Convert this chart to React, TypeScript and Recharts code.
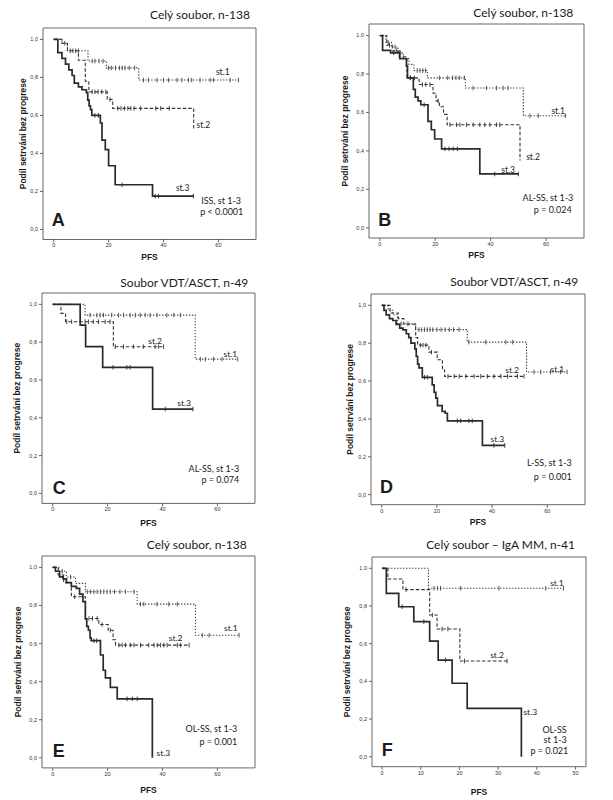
import React from "react";
import { LineChart, Line, XAxis, YAxis, ReferenceArea, ReferenceDot } from "recharts";

// ---- data (T = step times, S = survival after step, C = censored times)

const aSt1T = [0, 3, 5, 12.5, 19.2, 31];
const aSt1S = [1, 0.98, 0.94, 0.886, 0.85, 0.786];
const aSt1C = [4, 7, 9, 14, 15, 16.5, 18, 20, 21, 22.5, 24, 25, 26, 27.5, 29.5, 32.7, 34.5, 37.6, 40, 41.8, 44.9, 46.7, 49.1, 50.3, 53.3, 57, 58.2, 64.3, 67.3];
const aSt2T = [0, 3, 5, 9, 11.5, 12.8, 19.5, 21.5, 51];
const aSt2S = [1, 0.98, 0.94, 0.89, 0.78, 0.724, 0.684, 0.637, 0.53];
const aSt2C = [6, 8, 14, 15, 16.2, 17.5, 19, 20.5, 23.3, 24.5, 25.8, 27, 28.1, 29.3, 31.7, 37.2, 39, 42.1];
const aSt3T = [0, 1.5, 3, 4.3, 5.5, 6.7, 7.5, 9, 10.3, 11.9, 12.4, 12.9, 13.4, 13.9, 17, 17.6, 18.8, 20, 22.4, 36];
const aSt3S = [1, 0.93, 0.9, 0.87, 0.84, 0.81, 0.77, 0.75, 0.735, 0.72, 0.68, 0.65, 0.63, 0.6, 0.56, 0.47, 0.42, 0.335, 0.235, 0.175];
const aSt3C = [15, 16.3, 24.9, 37, 38.2, 50.9];

const bSt1T = [0, 2.2, 4.2, 6.5, 8.5, 10.5, 12.3, 17.2, 30.9, 51.8];
const bSt1S = [1, 0.965, 0.94, 0.91, 0.88, 0.85, 0.818, 0.78, 0.727, 0.583];
const bSt1C = [3, 5.5, 7.5, 13.5, 14.5, 15.5, 16.5, 21.5, 24.5, 26.3, 27.5, 28.7, 30.5, 33.7, 38.5, 42.1, 44.5, 46.3, 54.2, 57.2, 67];
const bSt2T = [0, 2.5, 4.5, 7, 9.8, 14.2, 19.2, 20.3, 21.5, 23, 24.3, 50.6];
const bSt2S = [1, 0.95, 0.92, 0.89, 0.78, 0.745, 0.7, 0.66, 0.63, 0.59, 0.536, 0.35];
const bSt2C = [3.5, 6, 11, 12.5, 15.4, 16.6, 18.1, 21, 25.3, 27.7, 28.9, 31.3, 33.7, 36.1, 37.9, 39.7, 42.1, 43.3];
const bSt3T = [0, 1, 3.9, 7.2, 9.6, 10, 12.1, 12.8, 13.8, 14.8, 17.4, 18.6, 19.8, 22.3, 36.1];
const bSt3S = [1, 0.923, 0.91, 0.88, 0.84, 0.78, 0.72, 0.68, 0.66, 0.64, 0.554, 0.51, 0.462, 0.411, 0.28];
const bSt3C = [5, 11, 16, 23.5, 25, 26.5, 28, 41.5, 50];

const cSt1T = [0, 11.8, 51.9];
const cSt1S = [1, 0.943, 0.71];
const cSt1C = [13.6, 16.1, 17.3, 18.5, 21.5, 24, 25.8, 28.2, 30.1, 31.9, 33.7, 35.5, 38, 41.6, 44.1, 46.5, 53.8, 55.6, 58.6, 61.7, 67.4];
const cSt2T = [0, 3, 4.7, 22.1];
const cSt2S = [1, 0.952, 0.908, 0.776];
const cSt2C = [5.1, 6.9, 11.8, 13, 14.8, 16.7, 19.1, 20.9, 22.8, 25.8, 29.4, 33, 37.3, 38.5, 40.4];
const cSt3T = [0, 10, 12, 18.2, 36.4];
const cSt3S = [1, 0.89, 0.776, 0.667, 0.446];
const cSt3C = [22, 27, 28.2, 41, 51.1];

const dSt1T = [0, 2.3, 4, 5.7, 12.3, 31, 52.5];
const dSt1S = [1, 0.974, 0.95, 0.903, 0.872, 0.806, 0.648];
const dSt1C = [7, 9.5, 13.5, 14.5, 15.5, 16.5, 17.5, 18.5, 20, 21.5, 23, 24.5, 26, 28, 31.6, 37.7, 45, 47.5, 55.2, 57.6, 61.2, 64.8, 67.2];
const dSt2T = [0, 3, 6, 8, 12.3, 13, 17.1, 20.1, 22, 22.8];
const dSt2S = [1, 0.96, 0.93, 0.9, 0.83, 0.79, 0.753, 0.713, 0.66, 0.625];
const dSt2C = [14, 15, 16, 18, 24, 26.3, 28.1, 30.5, 33.5, 35.9, 38.3, 40.7, 43.2, 45.6, 49.2, 51.6];
const dSt3T = [0, 0.8, 1.6, 2.8, 4, 5.2, 6.5, 7.7, 8.9, 9.8, 10.6, 12, 12.5, 13, 13.5, 14.7, 18.3, 19, 19.6, 20.2, 21.9, 23, 23.8, 36.5];
const dSt3S = [1, 0.974, 0.95, 0.93, 0.92, 0.9, 0.88, 0.87, 0.85, 0.83, 0.8, 0.77, 0.73, 0.69, 0.67, 0.62, 0.58, 0.54, 0.51, 0.47, 0.44, 0.43, 0.39, 0.26];
const dSt3C = [15.5, 16.5, 27.4, 28.6, 31.6, 32.8, 40.7, 44.6];

const eSt1T = [0, 2.2, 5, 8.3, 11.9, 30.8, 52];
const eSt1S = [1, 0.98, 0.95, 0.916, 0.872, 0.807, 0.644];
const eSt1C = [3.5, 6.5, 12.6, 13.8, 15, 16.2, 17.4, 18.6, 19.8, 21, 22.5, 24.5, 26.5, 29.6, 32, 33.2, 38, 42.3, 45.4, 54.5, 57, 67.9];
const eSt2T = [0, 2, 4, 6.8, 11.9, 16.8, 20.2, 22, 22.9];
const eSt2S = [1, 0.96, 0.92, 0.846, 0.732, 0.7, 0.67, 0.62, 0.592];
const eSt2C = [8, 13.2, 14.5, 16.2, 18, 21, 24.1, 25.3, 26.5, 28.3, 29.6, 32, 35, 36.9, 38.1, 39.3, 40.5, 41.7, 45.4, 46.6, 49.7];
const eSt3T = [0, 1, 2.5, 3.8, 5, 6.8, 8.6, 9.8, 11, 11.9, 12.4, 13, 13.6, 14, 17.4, 18.4, 19.2, 21, 23.5, 36.3];
const eSt3S = [1, 0.98, 0.95, 0.94, 0.92, 0.9, 0.89, 0.86, 0.82, 0.73, 0.69, 0.67, 0.63, 0.615, 0.54, 0.46, 0.42, 0.37, 0.31, 0];
const eSt3C = [15, 16, 27.1, 29, 30.8];

const fSt1T = [0, 12];
const fSt1S = [1, 0.894];
const fSt1C = [13.4, 14.3, 15.1, 20.3, 30.2, 42.3, 46.9];
const fSt2T = [0, 1.5, 5.4, 12.3, 14.2, 20.1];
const fSt2S = [1, 0.943, 0.887, 0.752, 0.678, 0.508];
const fSt2C = [6.2, 13, 15.5, 17, 21.3, 32.3];
const fSt3T = [0, 1.1, 4.3, 8.2, 12.3, 14.5, 18.1, 22, 36];
const fSt3S = [1, 0.867, 0.796, 0.717, 0.614, 0.513, 0.39, 0.257, 0];
const fSt3C = [5.2, 10.8, 16.4];

const stNames = ["st.1", "st.2", "st.3"];
const yTicks = [0, 0.2, 0.4, 0.6, 0.8, 1];
const xTicks60 = [0, 20, 40, 60];
const xTicks50 = [0, 10, 20, 30, 40, 50];
const titles = [
  "Celý soubor, n-138",
  "Celý soubor, n-138",
  "Soubor VDT/ASCT, n-49",
  "Soubor VDT/ASCT, n-49",
  "Celý soubor, n-138",
  "Celý soubor – IgA MM, n-41",
];
const notes = [
  ["ISS, st 1-3", "p < 0.0001"],
  ["AL-SS, st 1-3", "p = 0.024"],
  ["AL-SS, st 1-3", "p = 0.074"],
  ["L-SS, st 1-3", "p = 0.001"],
  ["OL-SS, st 1-3", "p = 0.001"],
  ["OL-SS", "st 1-3", "p = 0.021"],
];
const letters = ["A", "B", "C", "D", "E", "F"];
const Y_LABEL = "Podíl setrvání bez progrese";
const X_LABEL = "PFS";

// ---- layout

const PAGE_W = 613;
const PAGE_H = 800;
const INK = "#1b1b1b";
const FRAME = "#666";
const Y_DOMAIN: [number, number] = [-0.053, 1.06];
const X_DOMAIN_60: [number, number] = [-3.9, 73.7];
const X_DOMAIN_50: [number, number] = [-2.6, 52.7];

type Pt = { t: number; s: number; c: boolean };

function km(T: number[], S: number[], C: number[]): Pt[] {
  const pts: Pt[] = T.map((t, i) => ({ t, s: S[i], c: false }));
  for (const t of C) {
    let s = S[0];
    T.forEach((tt, i) => {
      if (tt <= t) s = S[i];
    });
    pts.push({ t, s, c: true });
  }
  return pts.sort((a, b) => a.t - b.t || Number(a.c) - Number(b.c));
}

const lineStyles = [
  { dash: "1.4 1.6", width: 1.1, color: "#444" },
  { dash: "3.5 2", width: 1.1, color: "#333" },
  { dash: undefined, width: 1.7, color: "#2a2a2a" },
];

const panels = [
  {
    frame: { x: 42.7, y: 27.9, w: 213, h: 211.5 },
    xDomain: X_DOMAIN_60, xTicks: xTicks60,
    curves: [km(aSt1T, aSt1S, aSt1C), km(aSt2T, aSt2S, aSt2C), km(aSt3T, aSt3S, aSt3C)],
    stPos: [[61.6, 0.83], [54.5, 0.55], [47, 0.216]],
    title: { x: 250, y: 15 },
    noteX: [241, 243.3], noteY: [200, 210.7],
    letter: { x: 51.7, y: 220 },
    pfsDy: 17.6, ylabDist: 20,
  },
  {
    frame: { x: 369, y: 24.4, w: 215, h: 214 },
    xDomain: X_DOMAIN_60, xTicks: xTicks60,
    curves: [km(bSt1T, bSt1S, bSt1C), km(bSt2T, bSt2S, bSt2C), km(bSt3T, bSt3S, bSt3C)],
    stPos: [[64.4, 0.61], [55.3, 0.37], [46.3, 0.303]],
    title: { x: 573.3, y: 13.3 },
    noteX: [573.3, 571.7], noteY: [197.3, 209],
    letter: { x: 378.3, y: 220 },
    pfsDy: 16.6, ylabDist: 24,
  },
  {
    frame: { x: 42.2, y: 293, w: 213, h: 210.4 },
    xDomain: X_DOMAIN_60, xTicks: xTicks60,
    curves: [km(cSt1T, cSt1S, cSt1C), km(cSt2T, cSt2S, cSt2C), km(cSt3T, cSt3S, cSt3C)],
    stPos: [[64.7, 0.735], [37.3, 0.806], [47.9, 0.476]],
    title: { x: 248.3, y: 283.3 },
    noteX: [239.3, 239.3], noteY: [468.3, 479.3],
    letter: { x: 52.7, y: 487.5 },
    pfsDy: 20, ylabDist: 24.7,
  },
  {
    frame: { x: 370.5, y: 293.6, w: 214, h: 210.7 },
    xDomain: X_DOMAIN_60, xTicks: xTicks60,
    curves: [km(dSt1T, dSt1S, dSt1C), km(dSt2T, dSt2S, dSt2C), km(dSt3T, dSt3S, dSt3C)],
    stPos: [[63.7, 0.666], [47.3, 0.657], [41.9, 0.296]],
    title: { x: 578.3, y: 281.7 },
    noteX: [571.7, 571.7], noteY: [462.3, 476],
    letter: { x: 380, y: 486.7 },
    pfsDy: 17.4, ylabDist: 21,
  },
  {
    frame: { x: 41.7, y: 555.9, w: 213, h: 211.9 },
    xDomain: X_DOMAIN_60, xTicks: xTicks60,
    curves: [km(eSt1T, eSt1S, eSt1C), km(eSt2T, eSt2S, eSt2C), km(eSt3T, eSt3S, eSt3C)],
    stPos: [[64.9, 0.68], [44.8, 0.627], [40.3, 0.023]],
    title: { x: 246.7, y: 545 },
    noteX: [237.3, 237.3], noteY: [728.3, 741],
    letter: { x: 52.7, y: 750.8 },
    pfsDy: 22.2, ylabDist: 24.4,
  },
  {
    frame: { x: 371.7, y: 557, w: 214, h: 209.7 },
    xDomain: X_DOMAIN_50, xTicks: xTicks50,
    curves: [km(fSt1T, fSt1S, fSt1C), km(fSt2T, fSt2S, fSt2C), km(fSt3T, fSt3S, fSt3C)],
    stPos: [[45.2, 0.924], [29.7, 0.54], [38.3, 0.24]],
    title: { x: 575, y: 545 },
    noteX: [566.7, 566.7, 568.3], noteY: [729.3, 739.3, 750],
    letter: { x: 381.7, y: 750 },
    pfsDy: 25, ylabDist: 25,
  },
];

const censorDot = (color: string) => (p: any) => {
  const key = `c-${p.index}`;
  if (!p.payload || !p.payload.c) return <g key={key} />;
  return (
    <line key={key} x1={p.cx} x2={p.cx} y1={p.cy - 2.3} y2={p.cy + 2.3} stroke={color} strokeWidth={0.9} />
  );
};

function Txt({ x, y, size, anchor = "start", bold = false, family = "Lato", children }: any) {
  const style: React.CSSProperties = {
    position: "absolute",
    top: y,
    fontSize: size,
    lineHeight: 1,
    whiteSpace: "nowrap",
    transform: "translateY(-50%)",
    fontFamily: family,
    fontWeight: bold ? 700 : 400,
    color: INK,
  };
  if (anchor === "end") style.right = PAGE_W - x;
  else style.left = x;
  return <div style={style}>{children}</div>;
}

const ML = 42;
const MT = 20;
const MR = 10;
const XH = 32;

function Panel({ p }: { p: (typeof panels)[number] }) {
  const { frame } = p;
  const tickStyle = { fontSize: 5.5, fill: "#333", fontFamily: "Liberation Sans" };
  return (
    <div style={{ position: "absolute", left: frame.x - ML, top: frame.y - MT }}>
      <LineChart
        width={frame.w + ML + MR}
        height={frame.h + MT + XH}
        margin={{ top: MT, right: MR, bottom: 0, left: 0 }}
      >
        <XAxis
          type="number"
          dataKey="t"
          domain={p.xDomain}
          ticks={p.xTicks}
          allowDataOverflow
          height={XH}
          axisLine={false}
          tickSize={3}
          tickMargin={1}
          tickLine={{ stroke: FRAME }}
          tick={tickStyle}
          label={{
            content: (lp: any) => {
              const vb = lp.viewBox;
              return (
                <text
                  x={vb.x + vb.width / 2}
                  y={vb.y + p.pfsDy}
                  textAnchor="middle"
                  dominantBaseline="central"
                  fontFamily="Liberation Sans"
                  fontWeight={700}
                  fontSize={8.5}
                  fill={INK}
                >
                  {X_LABEL}
                </text>
              );
            },
          }}
        />
        <YAxis
          type="number"
          domain={Y_DOMAIN}
          ticks={yTicks}
          allowDataOverflow
          width={ML}
          axisLine={false}
          tickSize={3}
          tickMargin={2}
          tickLine={{ stroke: FRAME }}
          tick={tickStyle}
          tickFormatter={(v: number) => v.toFixed(1).replace(".", ",")}
          label={{
            content: (lp: any) => {
              const vb = lp.viewBox;
              const cx = vb.x + vb.width - p.ylabDist;
              const cy = vb.y + vb.height / 2;
              return (
                <text
                  x={cx}
                  y={cy}
                  transform={`rotate(-90 ${cx} ${cy})`}
                  textAnchor="middle"
                  dominantBaseline="central"
                  fontFamily="Liberation Sans"
                  fontWeight={700}
                  fontSize={8.5}
                  fill={INK}
                >
                  {Y_LABEL}
                </text>
              );
            },
          }}
        />
        <ReferenceArea
          x1={p.xDomain[0]}
          x2={p.xDomain[1]}
          y1={Y_DOMAIN[0]}
          y2={Y_DOMAIN[1]}
          fill="none"
          stroke={FRAME}
          strokeWidth={1}
          ifOverflow="visible"
        />
        {p.curves.map((data, i) => (
          <Line
            key={stNames[i]}
            data={data}
            dataKey="s"
            type="stepAfter"
            stroke={lineStyles[i].color}
            strokeWidth={lineStyles[i].width}
            strokeDasharray={lineStyles[i].dash}
            dot={censorDot(lineStyles[i].color)}
            activeDot={false}
            isAnimationActive={false}
          />
        ))}
        {p.stPos.map(([t, s], i) => (
          <ReferenceDot
            key={`lab-${i}`}
            x={t}
            y={s}
            r={0.01}
            fill="none"
            stroke="none"
            ifOverflow="visible"
            label={{ value: stNames[i], position: "center", fontSize: 8.5, fontFamily: "Lato", fill: INK }}
          />
        ))}
      </LineChart>
    </div>
  );
}

export default function App() {
  return (
    <div
      style={{
        position: "absolute",
        left: 0,
        top: 0,
        width: PAGE_W,
        height: PAGE_H,
        background: "#fff",
        overflow: "hidden",
      }}
    >
      {panels.map((p, i) => (
        <React.Fragment key={letters[i]}>
          <Panel p={p} />
          <Txt x={p.title.x} y={p.title.y} size={12} anchor="end">
            {titles[i]}
          </Txt>
          {notes[i].map((n, j) => (
            <Txt key={n} x={p.noteX[j]} y={p.noteY[j]} size={9} anchor="end">
              {n}
            </Txt>
          ))}
          <Txt x={p.letter.x} y={p.letter.y} size={18} bold family="Liberation Sans">
            {letters[i]}
          </Txt>
        </React.Fragment>
      ))}
    </div>
  );
}
